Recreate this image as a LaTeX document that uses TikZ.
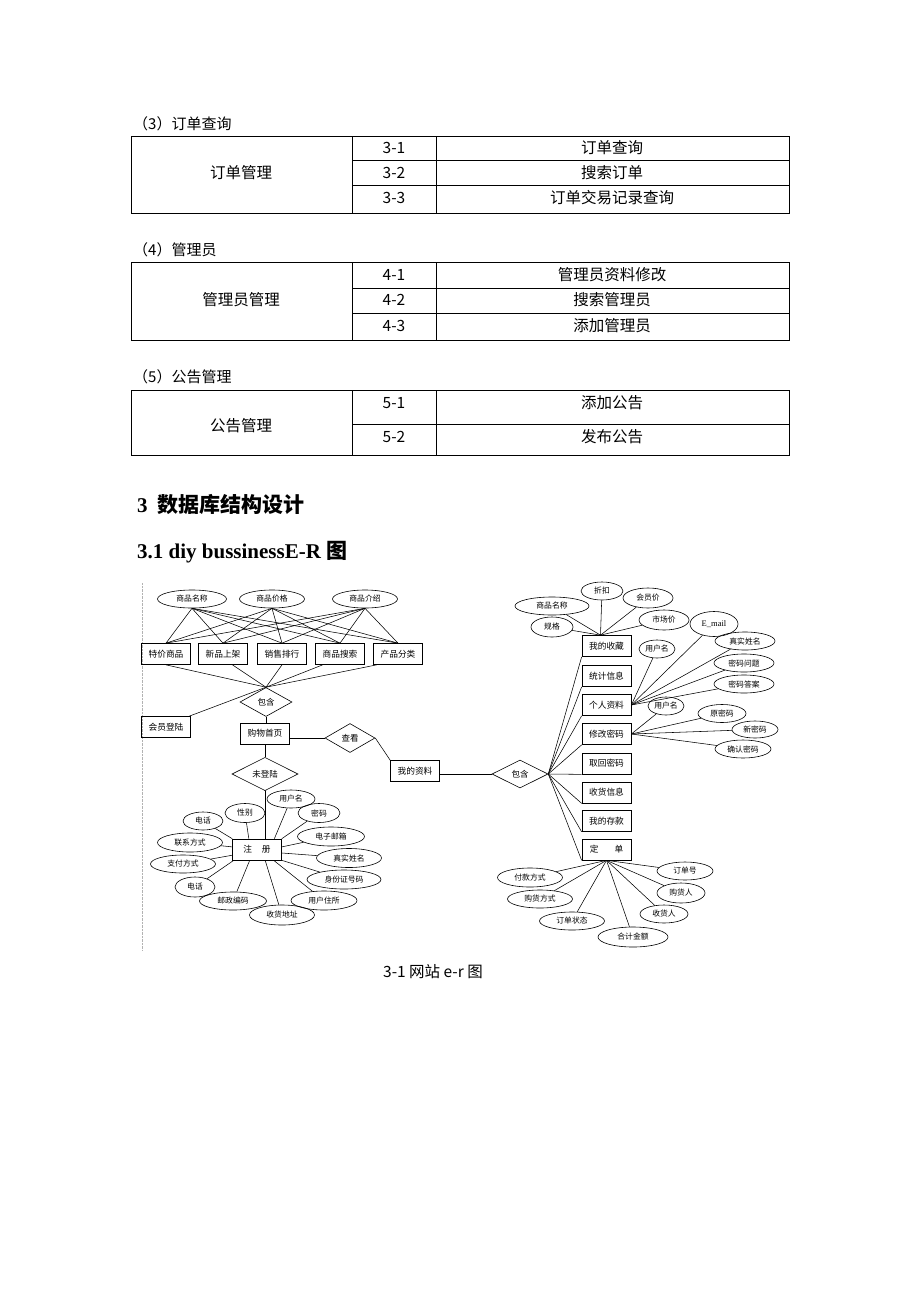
\documentclass[tikz,border=0pt]{standalone}
\usepackage{fontspec}
\newfontfamily\cjk{Noto Sans CJK SC}
\newfontfamily\tms{Liberation Serif}
\usetikzlibrary{shapes.geometric,calc}
\begin{document}
\begin{tikzpicture}[x=1pt,y=-1pt,
  ent/.style={draw, rectangle, minimum width=49, minimum height=21, inner sep=0, line width=0.7, font=\cjk\fontsize{8.7}{10}\selectfont},
  attr/.style={draw, ellipse, inner sep=0, minimum width=#1, minimum height=19, line width=0.6, font=\cjk\fontsize{7.8}{9}\selectfont},
  attr/.default=50,
  rel/.style={draw, diamond, inner sep=0, minimum width=#1, minimum height=29, line width=0.6, font=\cjk\fontsize{8.5}{10}\selectfont},
  rel/.default=52,
  ln/.style={line width=0.55},
  tb/.style={line width=0.8},
  tt/.style={inner sep=0, font=\cjk\fontsize{15.5}{17}\selectfont},
  hd/.style={inner sep=0, anchor=west, font=\cjk\fontsize{15}{17}\selectfont}
]
\fill[white] (0,0) rectangle (920,1302);
\useasboundingbox (0,0) rectangle (920,1302);

% ---------- table 3
\node[hd] (h1) at (133,124) {（3）订单查询};
\draw[tb] (131,136) rectangle (789,213);
\draw[tb] (352,136) -- (352,213);
\draw[tb] (436,136) -- (436,213);
\draw[tb] (352,160) -- (789,160);
\draw[tb] (352,185) -- (789,185);
\node[tt] (t1a) at (241,173) {订单管理};
\node[tt] (t1b) at (394,148) {3-1};
\node[tt] (t1c) at (394,173) {3-2};
\node[tt] (t1d) at (394,198) {3-3};
\node[tt] (t1e) at (612,148) {订单查询};
\node[tt] (t1f) at (612,173) {搜索订单};
\node[tt] (t1g) at (612,198) {订单交易记录查询};

% ---------- table 4
\node[hd] (h2) at (133,250) {（4）管理员};
\draw[tb] (131,262) rectangle (789,340);
\draw[tb] (352,262) -- (352,340);
\draw[tb] (436,262) -- (436,340);
\draw[tb] (352,288) -- (789,288);
\draw[tb] (352,313) -- (789,313);
\node[tt] (t2a) at (241,300) {管理员管理};
\node[tt] (t2b) at (394,275) {4-1};
\node[tt] (t2c) at (394,300) {4-2};
\node[tt] (t2d) at (394,326) {4-3};
\node[tt] (t2e) at (612,275) {管理员资料修改};
\node[tt] (t2f) at (612,300) {搜索管理员};
\node[tt] (t2g) at (612,326) {添加管理员};

% ---------- table 5
\node[hd] (h3) at (133,377) {（5）公告管理};
\draw[tb] (131,390) rectangle (789,455);
\draw[tb] (352,390) -- (352,455);
\draw[tb] (436,390) -- (436,455);
\draw[tb] (352,424) -- (789,424);
\node[tt] (t3a) at (241,426) {公告管理};
\node[tt] (t3b) at (394,403) {5-1};
\node[tt] (t3c) at (394,437) {5-2};
\node[tt] (t3e) at (612,403) {添加公告};
\node[tt] (t3f) at (612,437) {发布公告};

% ---------- headings
\node[inner sep=0, anchor=west] (hh1) at (137,505) {\fontsize{21}{23}\selectfont\tms\bfseries 3\hspace{10pt}\cjk\bfseries 数据库结构设计};
\node[inner sep=0, anchor=west] (hh2) at (137,552) {\fontsize{21}{23}\selectfont\tms\bfseries 3.1 diy bussinessE-R \cjk\bfseries 图};

% ---------- ER diagram
\draw[gray!60, densely dotted] (142,583) -- (142,950);

\node[attr=69, minimum height=18] (pname) at (192,599) {商品名称};
\node[attr=65, minimum height=18] (pprice) at (272,599) {商品价格};
\node[attr=65, minimum height=18] (pdesc) at (365,599) {商品介绍};

\node[ent] (tj) at (166,654) {特价商品};
\node[ent] (xp) at (223,654) {新品上架};
\node[ent] (xs) at (282,654) {销售排行};
\node[ent] (ss) at (340,654) {商品搜索};
\node[ent] (fl) at (398,654) {产品分类};
\foreach \e in {pname,pprice,pdesc}{\foreach \b in {tj,xp,xs,ss,fl}{\draw[ln] (\e.south) -- (\b.north);}}

\node[rel=52] (bh1) at (266,702) {包含};
\draw[ln] (tj.south) -- (bh1.north);
\draw[ln] (xp.-49) -- (bh1.north);
\draw[ln] (xs.south) -- (bh1.north);
\draw[ln] (ss.-148) -- (bh1.north);
\draw[ln] (fl.-153) -- (bh1.north);

\node[ent] (hy) at (166,727) {会员登陆};
\draw[ln] (hy.25) -- (bh1.north);
\node[ent] (home) at (265,733.5) {购物首页};
\draw[ln] (bh1.south) -- (bh1.south |- home.north);
\node[rel=50] (ck) at (350,738) {查看};
\draw[ln] (ck.west -| home.east) -- (ck.west);
\node[ent] (mine) at (415,771) {我的资料};
\draw[ln] (ck.east) -- (mine.north west);
\node[rel=56, minimum height=28] (bh2) at (520,774) {包含};
\draw[ln] (bh2.west -| mine.east) -- (bh2.west);

% register
\node[rel=66] (wdl) at (265,774) {未登陆};
\draw[ln] (home.south) -- (wdl.north);
\node[ent] (reg) at (257,849.5) {注\hspace{10pt}册};
\draw[ln] (wdl.south) -- (wdl.south |- reg.north);

\node[attr=48, minimum height=18] (r1) at (291,799) {用户名};
\node[attr=40] (r2) at (245,813) {性别};
\node[attr=40, minimum height=18] (r3) at (203,821) {电话};
\node[attr=42] (r4) at (319,813) {密码};
\node[attr=67] (r5) at (331,836.5) {电子邮箱};
\node[attr=65] (r6) at (190,842.5) {联系方式};
\node[attr=65] (r7) at (349,858) {真实姓名};
\node[attr=65, minimum height=18] (r8) at (183,864) {支付方式};
\node[attr=74] (r9) at (344,879.5) {身份证号码};
\node[attr=40, minimum height=20] (r10) at (195,887) {电话};
\node[attr=66] (r11) at (324,900.5) {用户住所};
\node[attr=67, minimum height=18] (r12) at (233,901) {邮政编码};
\node[attr=65, minimum height=20] (r13) at (282,915) {收货地址};
\draw[ln] (r1) -- (reg.32);
\draw[ln] (r2) -- (reg.127);
\draw[ln] (r3) -- (reg.north west);
\draw[ln] (r4) -- (reg.north east);
\draw[ln] (r5) -- (reg.6);
\draw[ln] (r6) -- (reg.174);
\draw[ln] (r7) -- (reg.-8);
\draw[ln] (r8) -- (reg.-167);
\draw[ln] (r9) -- (reg.south east);
\draw[ln] (r10) -- (reg.-155);
\draw[ln] (r11) -- (reg.-33);
\draw[ln] (r12) -- (reg.-124);
\draw[ln] (r13) -- (reg.-53);

% right column boxes
\node[ent] (fav) at (606.5,646) {我的收藏};
\node[ent] (stat) at (606.5,676) {统计信息};
\node[ent] (pers) at (606.5,705) {个人资料};
\node[ent] (mod) at (606.5,734) {修改密码};
\node[ent] (ret) at (606.5,763.5) {取回密码};
\node[ent] (recv) at (606.5,792.5) {收货信息};
\node[ent] (dep) at (606.5,821) {我的存款};
\node[ent] (ord) at (606.5,849.5) {定\hspace{16pt}单};
\foreach \b in {fav,stat,pers,mod,ret,recv,dep,ord}{\draw[ln] (bh2.east) -- (\b.south west);}

% favourites attributes
\coordinate (favc) at ($(fav.north)+(-6,0)$);
\node[attr=42, minimum height=18] (zk) at (602,591) {折扣};
\node[attr=50, minimum height=20] (hyj) at (648,598) {会员价};
\node[attr=74, minimum height=18] (spmc) at (552,606) {商品名称};
\node[attr=42, minimum height=20] (gg) at (552,627) {规格};
\node[attr=50, minimum height=20] (scj) at (664,620) {市场价};
\foreach \a in {zk,hyj,spmc,gg,scj}{\draw[ln] (\a) -- (favc);}

% personal data attributes
\node[attr=36, minimum height=18] (yhm1) at (657,649) {用户名};
\node[attr=48, minimum height=25, font=\tms\fontsize{8.5}{9}\selectfont] (email) at (714,624) {E\_mail};
\node[attr=60, minimum height=18] (zsxm) at (745,641) {真实姓名};
\node[attr=60, minimum height=18] (mmwt) at (744,663) {密码问题};
\node[attr=60, minimum height=18] (mmda) at (744,684) {密码答案};
\foreach \a in {yhm1,email,zsxm,mmwt,mmda}{\draw[ln] (\a) -- (pers.east);}

% change password attributes
\node[attr=36, minimum height=18] (yhm2) at (666,706) {用户名};
\node[attr=48, minimum height=18] (ymm) at (722,713.5) {原密码};
\node[attr=46, minimum height=17] (xmm) at (755,729.5) {新密码};
\node[attr=56, minimum height=18] (qrmm) at (743,749) {确认密码};
\foreach \a in {yhm2,ymm,xmm,qrmm}{\draw[ln] (\a) -- (mod.east);}

% order attributes
\node[attr=65] (fkfs) at (530,877.5) {付款方式};
\node[attr=65, minimum height=18] (ghfs) at (540,899) {购货方式};
\node[attr=65, minimum height=18] (ddzt) at (572,921) {订单状态};
\node[attr=70, minimum height=20] (hjje) at (633,937) {合计金额};
\node[attr=56, minimum height=18] (ddh) at (685,871) {订单号};
\node[attr=48, minimum height=20] (ghr) at (681,893) {购货人};
\node[attr=48, minimum height=18] (shr) at (664,914) {收货人};
\foreach \a in {fkfs,ghfs,ddzt,hjje,ddh,ghr,shr}{\draw[ln] (\a) -- (ord.south);}

% caption
\node[tt] (cap) at (433,972) {3-1 网站 e-r 图};
\end{tikzpicture}
\end{document}
